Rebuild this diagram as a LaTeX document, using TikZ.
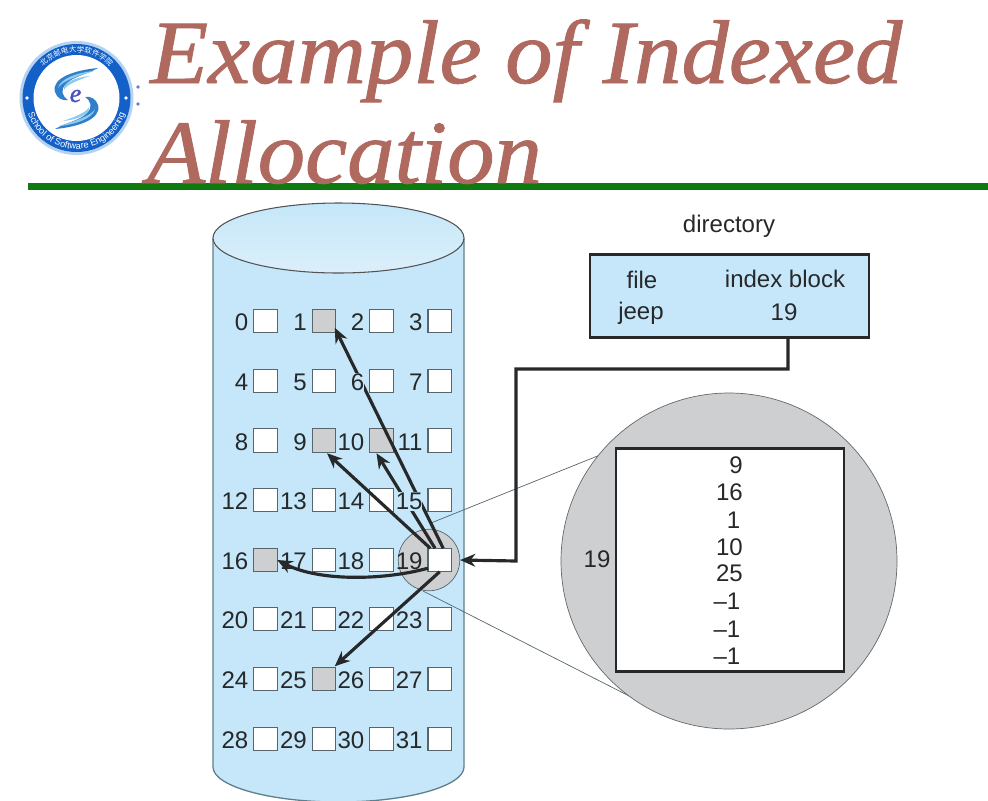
\documentclass[tikz,border=0pt]{standalone}
\usepackage{fontspec}
\setmainfont{Liberation Sans}
\newfontface\titlefont{Liberation Serif Italic}[FakeStretch=1.05,FakeBold=1]
\newfontface\logoefont{Liberation Serif Italic}[FakeBold=1.5]
\newfontfamily\cjkf{Noto Sans CJK SC}
\usetikzlibrary{arrows.meta,decorations.text}
\definecolor{cyl}{HTML}{C5E7F9}
\definecolor{cyltop}{HTML}{DCEFFA}
\definecolor{cylline}{HTML}{5E7F8C}
\definecolor{grayb}{HTML}{CDCFD1}
\definecolor{boxline}{HTML}{56666C}
\definecolor{ink}{HTML}{26282A}
\definecolor{titlec}{HTML}{B0695F}
\definecolor{greenl}{HTML}{0F7A0F}
\definecolor{logob}{HTML}{1260C8}
\definecolor{logop}{HTML}{B4D2F2}
\definecolor{logos}{HTML}{2F7FCB}
\definecolor{logol}{HTML}{8CCBEF}
\definecolor{logoe}{HTML}{4A55C0}
\tikzset{
  blk/.style={draw=boxline,line width=1.1pt,fill=white,minimum width=20pt,minimum height=20pt,inner sep=0pt,outer sep=0pt},
  blkused/.style={blk,fill=grayb},
  num/.style={anchor=east,inner sep=0pt,text=ink,font=\fontsize{20.5}{22}\selectfont,text height=14.5pt,text depth=0pt},
  txt/.style={inner sep=0pt,text=ink,font=\fontsize{20.5}{24}\selectfont},
  val/.style={txt,anchor=east},
  ptr/.style={-{Stealth[length=13pt,width=11pt]},line width=2.7pt,draw=ink},
  thin link/.style={draw=boxline,line width=0.6pt},
  titletext/.style={anchor=base west,inner sep=0pt,text=titlec,font=\fontsize{77}{80}\selectfont\titlefont},
}
\begin{document}
\begin{tikzpicture}[x=0.03cm,y=-0.03cm]
\useasboundingbox (0,0) rectangle (988,800);
\fill[white] (0,0) rectangle (988,800);
% title rule and title
\fill[greenl] (28,183) rectangle (988,190);
\node[titletext] (t1) at (150,83) {Example of Indexed};
\node[titletext] (t2) at (147,183) {Allocation};
% logo
\begin{scope}[shift={(76.5,98)},x=0.03cm,y=0.03cm]
  \fill[logop] (0,0) circle (57);
  \fill[logob] (0,0) circle (54);
  \fill[white] (0,0) circle (43);
  \fill[white] (-49.5,0) circle (1.9) (49.5,0) circle (1.9);
  \path[decorate,decoration={text along path,text color=white,text align=center,
     text={|\fontsize{7.8}{8}\selectfont|School of Software Engineering}}]
     (192:51) arc[start angle=192,end angle=348,radius=51];
  \path[decorate,decoration={text along path,text color=white,text align=center,
     text={|\fontsize{6.4}{8}\selectfont\cjkf|北京邮电大学软件学院}}]
     (165:45.5) arc[start angle=165,end angle=15,radius=45.5];
\end{scope}
\foreach \r in {0,180}{
\begin{scope}[rotate around={\r:(76.5,98.5)}]
  \fill[logos] (98,68) .. controls (75,70) and (51,78) .. (55,92) .. controls (57,98) and (62,101) .. (68,100)
     .. controls (62,96) and (60,90) .. (66,84) .. controls (72,77) and (88,74) .. (98,68) -- cycle;
  \fill[logol] (90,76) .. controls (78,77) and (62,82) .. (64,90) .. controls (66,85) and (78,80) .. (90,76) -- cycle;
  \fill[logol] (94,71) .. controls (80,72) and (60,78) .. (58,88) .. controls (62,81) and (78,76) .. (94,71) -- cycle;
\end{scope}}
\node[inner sep=0pt,text=logoe,font=\fontsize{22}{22}\logoefont] (logoe) at (75.5,96) {e};
\fill[logoe!80] (138,87) circle (1.8) (138,104) circle (1.8);
% disk
\path[fill=cyl,draw=cylline,line width=1.1pt] (213,238) -- (213,767)
   .. controls (213,786) and (269,802) .. (338.5,802) .. controls (408,802) and (464,786) .. (464,767) -- (464,238);
\path[top color=cyl,bottom color=cyltop,draw=ink!80,line width=0.9pt] (338.5,238) ellipse (125.5 and 35);
% magnifier links
\draw[thin link] (431,523) -- (600,455);
\draw[thin link] (423,591) -- (637,700);
\node[circle,draw=boxline,fill=grayb,line width=0.6pt,minimum size=52.5pt,inner sep=0pt] (lens) at (429,560) {};
% blocks
\foreach \n/\cx/\cy/\st in {
 0/265.5/321/blk,1/324/321/blkused,2/381.5/321/blk,3/439.7/321/blk,
 4/265.5/381/blk,5/324/381/blk,6/381.5/381/blk,7/439.7/381/blk,
 8/265.5/440.5/blk,9/324/440.5/blkused,10/381.5/440.5/blkused,11/439.7/440.5/blk,
 12/265.5/500/blk,13/324/500/blk,14/381.5/500/blk,15/439.7/500/blk,
 16/265.5/560/blkused,17/324/560/blk,18/381.5/560/blk,19/439.7/560/blk,
 20/265.5/619/blk,21/324/619/blk,22/381.5/619/blk,23/439.7/619/blk,
 24/265.5/679/blk,25/324/679/blkused,26/381.5/679/blk,27/439.7/679/blk,
 28/265.5/739/blk,29/324/739/blk,30/381.5/739/blk,31/439.7/739/blk}{
  \node[\st] (b\n) at (\cx,\cy) {};
}
\foreach \n in {0,1,2,3,4,5,7,8,9,10,11,12,13,14,16,17,18,19,20,21,22,23,24,25,26,27,28,29,30,31}{
  \node[num] (l\n) at ([xshift=-4.5pt,yshift=-1.2pt]b\n.west) {\n};
}
% pointers from the index block
\draw[ptr] ([xshift=3pt]b19.north) -- ([shift={(-1,-5)}]b1.south east);
\draw[ptr] ([xshift=-4pt]b19.north) -- ([shift={(-5,1)}]b10.south);
\draw[ptr] ([xshift=-8pt]b19.north) -- ([shift={(3,1)}]b9.south);
\draw[ptr] ([yshift=-7pt]b19.west) .. controls (385,580) and (320,582) .. (b16.east);
\draw[ptr] ([xshift=0pt]b19.south) -- ([shift={(-1,-1)}]b25.north east);
\node[num,fill=cyl,inner ysep=1pt] (l6) at ([xshift=-4.5pt,yshift=-1.2pt]b6.west) {6};
\node[num,fill=cyl,inner ysep=1pt] (l15) at ([xshift=-4.5pt,yshift=-1.2pt]b15.west) {15};
% enlarged index block
\path[fill=grayb,draw=ink!70,line width=0.6pt] (729,561) circle[radius=168];
\node[draw=ink,fill=white,line width=2.4pt,minimum width=194.5pt,minimum height=191pt,inner sep=0pt] (idx) at (730,560) {};
\node[val] (i1) at (743,465) {9};
\node[val] (i2) at (743,492) {16};
\node[val] (i3) at (740.5,520) {1};
\node[val] (i4) at (743,547) {10};
\node[val] (i5) at (743,573.5) {25};
\node[val] (i6) at (740.5,601.5) {–1};
\node[val] (i7) at (740.5,629) {–1};
\node[val] (i8) at (740.5,656.5) {–1};
\node[txt] (i9) at (597,559.5) {19};
% directory
\node[txt] (dirl) at (729,226) {directory};
\node[draw=ink,fill=cyl,line width=2.4pt,minimum width=238pt,minimum height=71.5pt,inner sep=0pt] (dir) at (729.5,296) {};
\node[txt] (d1) at (642,280) {file};
\node[txt] (d2) at (785,278.5) {index block};
\node[txt] (d3) at (641,313) {jeep};
\node[txt] (d4) at (784,312) {19};
\coordinate (dout) at (788,338);
\draw[ptr] (dout) -- (788,369) -- (516,369) -- (516,561) -- (lens.east);
\end{tikzpicture}
\end{document}
